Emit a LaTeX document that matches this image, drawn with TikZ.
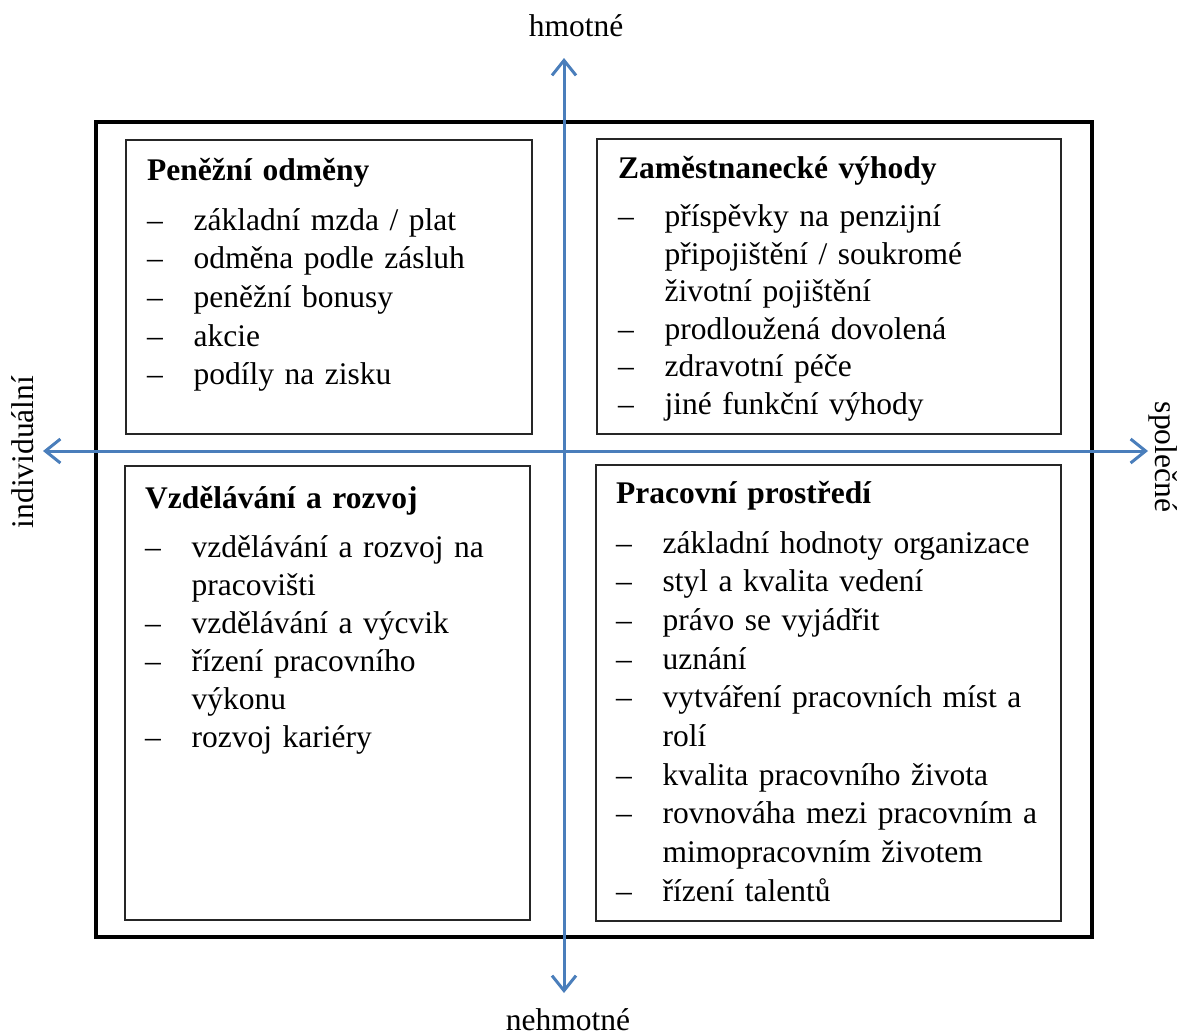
\documentclass[tikz,border=0pt]{standalone}
\usepackage{fontspec}
\setmainfont{Liberation Serif}
\usepackage{xcolor}
\usepackage{tikz}
\usetikzlibrary{arrows.meta}
\usetikzlibrary{positioning}
\definecolor{osamodra}{HTML}{4A7EBB}
\tikzset{>=latex}
\tikzstyle{ramec} = [rectangle, draw=black, line width=4pt, inner sep=0pt]
\tikzstyle{pole} = [rectangle, draw=black!85, line width=1.3pt, inner sep=0pt]
\tikzstyle{osa} = [{Straight Barb[length=15pt,width=24pt]}-{Straight Barb[length=15pt,width=24pt]}, draw=osamodra, line width=3pt]
\tikzstyle{popis} = [inner sep=0pt, font=\fontsize{31.5}{38}\selectfont]
\tikzset{obsah/.style={anchor=base west, inner sep=0pt, text width=460pt, align=left, font=\fontsize{31.5}{#1}\selectfont}, obsah/.default=38.7pt}
\newcommand{\nadpis}[1]{\textbf{#1}\par\vspace{11.3pt}}
\newcommand{\polozka}[1]{\par\noindent\hangindent=46.5pt\hangafter=1\makebox[46.5pt][l]{–}#1\par}

\begin{document}
\begin{tikzpicture}[x=1pt, y=-1pt]
\useasboundingbox (0,0) rectangle (1178,1036);
% vnejsi ramec
\node [ramec, minimum width=996pt, minimum height=815pt] (R) at (594,529.5) {};
% ctyri pole
\node [pole, minimum width=406pt, minimum height=294pt] (PO) at (329,287) {};
\node [pole, minimum width=464pt, minimum height=295pt] (ZV) at (829,286.5) {};
\node [pole, minimum width=405pt, minimum height=454pt] (VR) at (327.5,693) {};
\node [pole, minimum width=465pt, minimum height=456pt] (PP) at (828.5,693) {};
% osy
\coordinate (S) at (564,58);
\coordinate (J) at (564,993);
\coordinate (Z) at (43,451);
\coordinate (V) at (1148,451);
\draw [osa] (S) -- (J);
\draw [osa] (Z) -- (V);
\node [popis, anchor=base] (hm) at (576,36) {hmotné};
\node [popis, anchor=base] (nehm) at (568,1030) {nehmotné};
\node [popis, anchor=base, rotate=90] (ind) at (33,452) {individuální};
\node [popis, anchor=base, rotate=-90] (spol) at (1155,457) {společné};
% texty v polich
\node [obsah] (tPO) at (147,180) {\nadpis{Peněžní odměny}
\polozka{základní mzda / plat}
\polozka{odměna podle zásluh}
\polozka{peněžní bonusy}
\polozka{akcie}
\polozka{podíly na zisku}};
\node [obsah=37.5pt] (tZV) at (618,178) {\nadpis{Zaměstnanecké výhody}
\polozka{příspěvky na penzijní\newline připojištění / soukromé\newline životní pojištění}
\polozka{prodloužená dovolená}
\polozka{zdravotní péče}
\polozka{jiné funkční výhody}};
\node [obsah=38pt] (tVR) at (145,508) {\nadpis{Vzdělávání a rozvoj}
\polozka{vzdělávání a rozvoj na\newline pracovišti}
\polozka{vzdělávání a výcvik}
\polozka{řízení pracovního\newline výkonu}
\polozka{rozvoj kariéry}};
\node [obsah] (tPP) at (616,503) {\nadpis{Pracovní prostředí}
\polozka{základní hodnoty organizace}
\polozka{styl a kvalita vedení}
\polozka{právo se vyjádřit}
\polozka{uznání}
\polozka{vytváření pracovních míst a\newline rolí}
\polozka{kvalita pracovního života}
\polozka{rovnováha mezi pracovním a\newline mimopracovním životem}
\polozka{řízení talentů}};
\end{tikzpicture}
\end{document}
